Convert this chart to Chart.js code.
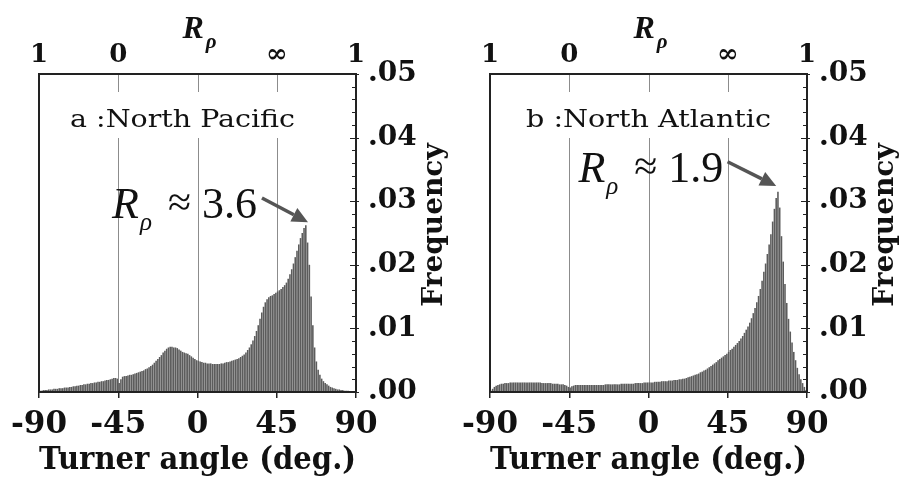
<!DOCTYPE html>
<html><head><meta charset="utf-8">
<script src="https://cdn.jsdelivr.net/npm/chart.js@4/dist/chart.umd.min.js"></script>
<style>
html,body{margin:0;padding:0;background:#fff;}
#wrap{position:relative;width:908px;height:482px;overflow:hidden;}
.panel{position:absolute;top:0;width:454px;height:482px;}
canvas{display:block;}
</style></head><body>
<div id="wrap">
<div class="panel" style="left:0"><canvas id="c1" width="454" height="482"></canvas></div>
<div class="panel" style="left:454px"><canvas id="c2" width="454" height="482"></canvas></div>
</div>
<script>
// Turner angle bin centres (deg), 1-degree bins
const angles = [
-89.5,-88.5,-87.5,-86.5,-85.5,-84.5,-83.5,-82.5,-81.5,-80.5,
-79.5,-78.5,-77.5,-76.5,-75.5,-74.5,-73.5,-72.5,-71.5,-70.5,
-69.5,-68.5,-67.5,-66.5,-65.5,-64.5,-63.5,-62.5,-61.5,-60.5,
-59.5,-58.5,-57.5,-56.5,-55.5,-54.5,-53.5,-52.5,-51.5,-50.5,
-49.5,-48.5,-47.5,-46.5,-45.5,-44.5,-43.5,-42.5,-41.5,-40.5,
-39.5,-38.5,-37.5,-36.5,-35.5,-34.5,-33.5,-32.5,-31.5,-30.5,
-29.5,-28.5,-27.5,-26.5,-25.5,-24.5,-23.5,-22.5,-21.5,-20.5,
-19.5,-18.5,-17.5,-16.5,-15.5,-14.5,-13.5,-12.5,-11.5,-10.5,
-9.5,-8.5,-7.5,-6.5,-5.5,-4.5,-3.5,-2.5,-1.5,-0.5,
0.5,1.5,2.5,3.5,4.5,5.5,6.5,7.5,8.5,9.5,
10.5,11.5,12.5,13.5,14.5,15.5,16.5,17.5,18.5,19.5,
20.5,21.5,22.5,23.5,24.5,25.5,26.5,27.5,28.5,29.5,
30.5,31.5,32.5,33.5,34.5,35.5,36.5,37.5,38.5,39.5,
40.5,41.5,42.5,43.5,44.5,45.5,46.5,47.5,48.5,49.5,
50.5,51.5,52.5,53.5,54.5,55.5,56.5,57.5,58.5,59.5,
60.5,61.5,62.5,63.5,64.5,65.5,66.5,67.5,68.5,69.5,
70.5,71.5,72.5,73.5,74.5,75.5,76.5,77.5,78.5,79.5,
80.5,81.5,82.5,83.5,84.5,85.5,86.5,87.5,88.5,89.5
];
// a : North Pacific frequency
const northPacific = [
0.0002,0.0002,0.0003,0.0003,0.0003,0.0004,0.0004,0.0004,0.0005,0.0005,
0.0005,0.0006,0.0006,0.0006,0.0007,0.0007,0.0007,0.0008,0.0008,0.0009,
0.0009,0.0010,0.0010,0.0011,0.0011,0.0012,0.0012,0.0013,0.0013,0.0014,
0.0014,0.0015,0.0015,0.0016,0.0016,0.0017,0.0017,0.0018,0.0019,0.0019,
0.0020,0.0021,0.0022,0.0022,0.0021,0.0014,0.0020,0.0024,0.0025,0.0025,
0.0026,0.0027,0.0027,0.0028,0.0029,0.0030,0.0031,0.0032,0.0033,0.0034,
0.0036,0.0037,0.0039,0.0041,0.0043,0.0046,0.0049,0.0052,0.0055,0.0058,
0.0062,0.0065,0.0068,0.0070,0.0071,0.0071,0.0070,0.0070,0.0069,0.0067,
0.0065,0.0063,0.0062,0.0061,0.0060,0.0058,0.0056,0.0054,0.0052,0.0050,
0.0049,0.0048,0.0047,0.0046,0.0046,0.0045,0.0045,0.0045,0.0044,0.0044,
0.0044,0.0044,0.0044,0.0045,0.0045,0.0046,0.0047,0.0047,0.0048,0.0049,
0.0050,0.0051,0.0052,0.0053,0.0055,0.0057,0.0059,0.0062,0.0066,0.0070,
0.0075,0.0081,0.0088,0.0096,0.0105,0.0115,0.0125,0.0134,0.0141,0.0146,
0.0149,0.0151,0.0152,0.0154,0.0156,0.0158,0.0160,0.0162,0.0165,0.0168,
0.0172,0.0178,0.0185,0.0193,0.0202,0.0212,0.0222,0.0232,0.0242,0.0250,
0.0258,0.0262,0.0235,0.0200,0.0150,0.0105,0.0070,0.0048,0.0035,0.0027,
0.0021,0.0017,0.0014,0.0012,0.0010,0.0008,0.0007,0.0006,0.0005,0.0004,
0.0004,0.0003,0.0003,0.0002,0.0002,0.0002,0.0001,0.0001,0.0001,0.0001
];
// b : North Atlantic frequency
const northAtlantic = [
0.0002,0.0005,0.0008,0.0010,0.0011,0.0012,0.0013,0.0013,0.0014,0.0014,
0.0014,0.0015,0.0015,0.0015,0.0015,0.0015,0.0015,0.0015,0.0015,0.0015,
0.0015,0.0015,0.0015,0.0015,0.0015,0.0015,0.0015,0.0015,0.0015,0.0014,
0.0014,0.0014,0.0014,0.0014,0.0014,0.0013,0.0013,0.0013,0.0013,0.0012,
0.0012,0.0012,0.0011,0.0010,0.0008,0.0007,0.0009,0.0010,0.0011,0.0011,
0.0011,0.0011,0.0011,0.0011,0.0011,0.0011,0.0011,0.0011,0.0011,0.0011,
0.0011,0.0011,0.0011,0.0011,0.0011,0.0012,0.0012,0.0012,0.0012,0.0012,
0.0012,0.0012,0.0012,0.0012,0.0013,0.0013,0.0013,0.0013,0.0013,0.0013,
0.0013,0.0013,0.0014,0.0014,0.0014,0.0014,0.0014,0.0015,0.0015,0.0015,
0.0015,0.0015,0.0015,0.0016,0.0016,0.0016,0.0016,0.0017,0.0017,0.0017,
0.0017,0.0018,0.0018,0.0018,0.0019,0.0019,0.0019,0.0020,0.0020,0.0021,
0.0021,0.0022,0.0023,0.0024,0.0025,0.0026,0.0027,0.0028,0.0029,0.0031,
0.0032,0.0034,0.0035,0.0037,0.0039,0.0041,0.0043,0.0045,0.0047,0.0050,
0.0052,0.0054,0.0056,0.0058,0.0060,0.0063,0.0066,0.0068,0.0071,0.0074,
0.0077,0.0080,0.0084,0.0088,0.0093,0.0098,0.0103,0.0109,0.0116,0.0124,
0.0132,0.0141,0.0151,0.0162,0.0175,0.0189,0.0202,0.0217,0.0232,0.0248,
0.0268,0.0288,0.0305,0.0315,0.0290,0.0245,0.0205,0.0170,0.0140,0.0115,
0.0095,0.0078,0.0063,0.0050,0.0038,0.0028,0.0020,0.0014,0.0008,0.0003
];
const xTickValues = [-90, -45, 0, 45, 90];
const topTickValues = [-90, -45, 45, 90];
const topTickLabels = ['1', '0', '\u221E', '1'];
const gridAngles = [-45, 0, 45];
const yMax = 0.05;
const yMinorStep = 0.002;
const panelTitles = ['a :North Pacific', 'b :North Atlantic'];
const peakLabels = ['3.6', '1.9'];

const SERIF = '"DejaVu Serif", serif';
const TIMES = '"Liberation Serif", "Times New Roman", serif';
const INK = '#111';

const decoPlugin = {
  id: 'deco',
  beforeDatasetsDraw(chart, args, o) {
    const { ctx, chartArea: a, scales: { x } } = chart;
    ctx.save();
    ctx.strokeStyle = '#8c8c8c';
    ctx.lineWidth = 1;
    gridAngles.forEach(g => {
      const px = Math.round(x.getPixelForValue(g)) + 0.5;
      ctx.beginPath();
      ctx.moveTo(px, a.top); ctx.lineTo(px, a.top + 18);
      ctx.moveTo(px, a.top + 64); ctx.lineTo(px, a.bottom);
      ctx.stroke();
    });
    ctx.restore();
  },
  afterDatasetsDraw(chart, args, o) {
    const { ctx, chartArea: a, scales: { x, y } } = chart;
    ctx.save();
    ctx.strokeStyle = '#222';
    ctx.lineWidth = 2;
    ctx.strokeRect(a.left, a.top, a.right - a.left, a.bottom - a.top);
    ctx.lineWidth = 1;
    y.ticks.forEach(t => {
      const py = Math.round(y.getPixelForValue(t.value)) + 0.5;
      const major = Math.round(t.value * 1000) % 10 === 0;
      ctx.beginPath();
      ctx.moveTo(a.right - (major ? 6 : 4), py);
      ctx.lineTo(a.right + (major ? 3 : 0), py);
      ctx.stroke();
    });
    ctx.restore();
  },
  afterDraw(chart, args, o) {
    const { ctx, chartArea: a, scales: { x, y } } = chart;
    ctx.save();
    ctx.fillStyle = INK;
    ctx.textBaseline = 'alphabetic';
    ctx.textAlign = 'left';
    // top axis title R_rho
    const cx = (a.left + a.right) / 2 - 15;
    ctx.font = 'italic bold 32px ' + TIMES;
    ctx.fillText('R', cx, 38);
    const rw = ctx.measureText('R').width;
    ctx.font = 'italic bold 21px ' + TIMES;
    ctx.fillText('\u03C1', cx + rw + 2, 48);
    // panel label, stretched horizontally to the reference's wide face
    ctx.font = '24px ' + SERIF;
    const mw = ctx.measureText(o.title).width;
    ctx.save();
    ctx.translate(a.left + o.titleDx, a.top + 53);
    ctx.scale(o.titleWidth / mw, 1);
    ctx.fillText(o.title, 0, 0);
    ctx.restore();
    // peak annotation
    const tx = x.getPixelForValue(o.textAt[0]);
    const ty = y.getPixelForValue(o.textAt[1]);
    ctx.font = 'italic 44px ' + TIMES;
    ctx.fillText('R', tx, ty);
    const w = ctx.measureText('R').width;
    ctx.font = 'italic 25px ' + TIMES;
    ctx.fillText('\u03C1', tx + w + 1, ty + 12);
    ctx.font = '42px ' + TIMES;
    ctx.fillText('\u2248', tx + w + 29, ty - 2);
    ctx.font = '44px ' + TIMES;
    ctx.fillText(o.peak, tx + w + 63, ty);
    // arrow
    const sx = x.getPixelForValue(o.arrowFrom[0]), sy = y.getPixelForValue(o.arrowFrom[1]);
    const ex = x.getPixelForValue(o.arrowTo[0]), ey = y.getPixelForValue(o.arrowTo[1]);
    const ang = Math.atan2(ey - sy, ex - sx);
    const hl = 16, hw = 7.5;
    const bx = ex - hl * Math.cos(ang), by = ey - hl * Math.sin(ang);
    ctx.strokeStyle = '#555'; ctx.fillStyle = '#555';
    ctx.lineWidth = 3.5;
    ctx.beginPath(); ctx.moveTo(sx, sy); ctx.lineTo(bx, by); ctx.stroke();
    ctx.beginPath();
    ctx.moveTo(ex, ey);
    ctx.lineTo(bx + hw * Math.sin(ang), by - hw * Math.cos(ang));
    ctx.lineTo(bx - hw * Math.sin(ang), by + hw * Math.cos(ang));
    ctx.closePath(); ctx.fill();
    // Frequency label (reads bottom to top)
    ctx.fillStyle = INK;
    ctx.font = 'bold 28px ' + SERIF;
    ctx.textAlign = 'center';
    ctx.textBaseline = 'middle';
    ctx.translate(a.right + 79, a.top + 151);
    ctx.rotate(-Math.PI / 2);
    ctx.fillText('Frequency', 0, 0);
    ctx.restore();
  }
};

function makeChart(id, values, cfg) {
  const pts = angles.map((a, i) => ({ x: a, y: values[i] }));
  return new Chart(document.getElementById(id), {
    type: 'bar',
    data: { datasets: [{
      data: pts, backgroundColor: '#5c5c5c', borderWidth: 0,
      barPercentage: 0.9, categoryPercentage: 1.0, xAxisID: 'x', yAxisID: 'y'
    }] },
    options: {
      responsive: false,
      animation: false,
      events: [],
      layout: { padding: { left: cfg.padLeft, right: 0, top: 0, bottom: 0 } },
      plugins: {
        legend: { display: false }, tooltip: { enabled: false },
        deco: cfg.deco
      },
      scales: {
        x: {
          type: 'linear', position: 'bottom', min: -90, max: 90, offset: false,
          afterBuildTicks: s => { s.ticks = xTickValues.map(v => ({ value: v })); },
          afterFit: s => { s.height = 90; },
          grid: { drawOnChartArea: false, drawTicks: true, tickLength: 6, color: '#222', lineWidth: 1.5, offset: false },
          border: { display: false },
          ticks: { font: { family: SERIF, weight: 'bold', size: 31 }, color: INK, padding: 8,
                   maxRotation: 0, autoSkip: false, callback: v => String(v) },
          title: { display: true, text: 'Turner angle (deg.)', color: INK,
                   font: { family: SERIF, weight: 'bold', size: 31 }, padding: { top: 0, bottom: 2 } }
        },
        xTop: {
          type: 'linear', position: 'top', min: -90, max: 90, offset: false,
          afterBuildTicks: s => { s.ticks = topTickValues.map(v => ({ value: v })); },
          afterFit: s => { s.height = 74; },
          grid: { display: false, drawOnChartArea: false, drawTicks: false },
          border: { display: false },
          ticks: { font: { family: SERIF, weight: 'bold', size: 26 }, color: INK, padding: 3, maxRotation: 0, autoSkip: false,
                   callback: v => topTickLabels[topTickValues.indexOf(v)] }
        },
        y: {
          type: 'linear', position: 'right', min: 0, max: yMax,
          afterFit: s => { s.width = cfg.yWidth; },
          grid: { drawOnChartArea: false, drawTicks: false },
          border: { display: false },
          ticks: { stepSize: yMinorStep, autoSkip: false, padding: 12, color: INK,
                   font: { family: SERIF, weight: 'bold', size: 28 },
                   callback: v => { const n = Math.round(v * 1000); return n % 10 === 0 ? '.0' + (n / 10) : ''; } }
        }
      }
    },
    plugins: [decoPlugin]
  });
}

makeChart('c1', northPacific, {
  padLeft: 39, yWidth: 98,
  deco: { title: panelTitles[0], titleDx: 31, titleWidth: 225, peak: peakLabels[0],
          textAt: [-48.5, 0.0274], arrowFrom: [36.6, 0.0305], arrowTo: [62.75, 0.0267] }
});
makeChart('c2', northAtlantic, {
  padLeft: 34, yWidth: 101,
  deco: { title: panelTitles[1], titleDx: 36, titleWidth: 245, peak: peakLabels[1],
          textAt: [-39.8, 0.033], arrowFrom: [44.9, 0.0362], arrowTo: [72.5, 0.0324] }
});
</script>
</body></html>
